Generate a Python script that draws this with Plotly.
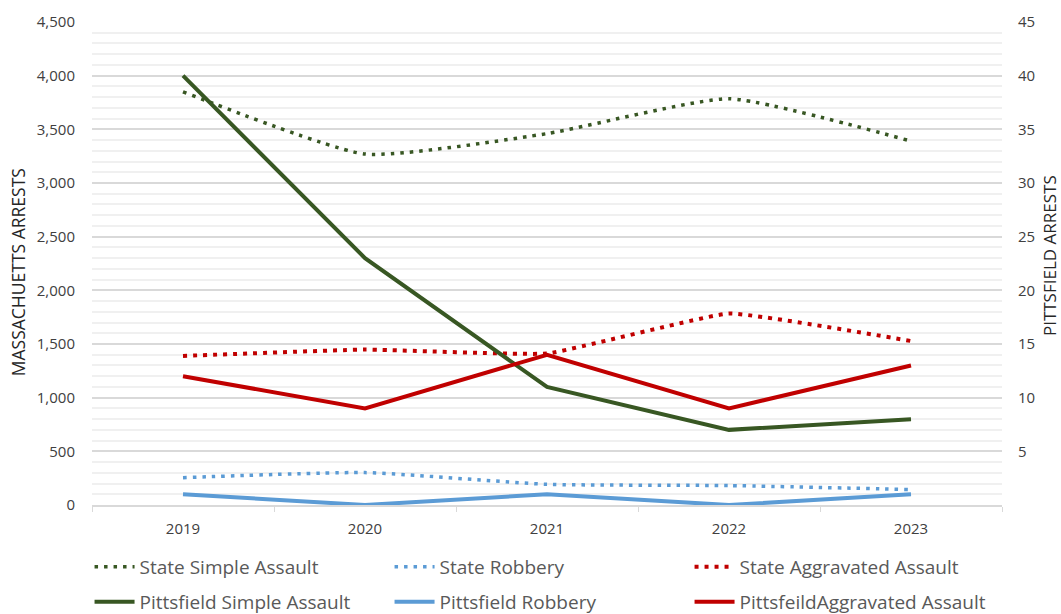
import plotly.graph_objects as go

years = ["2019", "2020", "2021", "2022", "2023"]

state_simple_assault = [3850, 3270, 3460, 3785, 3390]
state_robbery = [255, 302, 193, 181, 144]
state_aggravated_assault = [1389, 1448, 1411, 1784, 1528]

pittsfield_simple_assault = [40, 23, 11, 7, 8]
pittsfield_robbery = [1, 0, 1, 0, 1]
pittsfield_aggravated_assault = [12, 9, 14, 9, 13]

left_ticks = [0, 500, 1000, 1500, 2000, 2500, 3000, 3500, 4000, 4500]
right_ticks = [5, 10, 15, 20, 25, 30, 35, 40, 45]

GREEN = "#385723"
BLUE = "#5B9BD5"
RED = "#C00000"
TXT = "#404040"
LEG = "#595959"
FONT = "Open Sans"

fig = go.Figure()

fig.add_trace(go.Scatter(x=years, y=state_simple_assault, name="State Simple Assault",
                         mode="lines", legend="legend",
                         line=dict(color=GREEN, width=3.5, dash="3.5px,6px",
                                   shape="spline", smoothing=0.5)))
fig.add_trace(go.Scatter(x=years, y=state_robbery, name="State Robbery",
                         mode="lines", legend="legend",
                         line=dict(color=BLUE, width=3.5, dash="3.5px,6px",
                                   shape="spline", smoothing=0.5)))
fig.add_trace(go.Scatter(x=years, y=state_aggravated_assault, name="State Aggravated Assault",
                         mode="lines", legend="legend",
                         line=dict(color=RED, width=4, dash="4px,6px",
                                   shape="spline", smoothing=0.3)))
fig.add_trace(go.Scatter(x=years, y=pittsfield_simple_assault, name="Pittsfield Simple Assault",
                         mode="lines", yaxis="y2", legend="legend2",
                         line=dict(color=GREEN, width=4)))
fig.add_trace(go.Scatter(x=years, y=pittsfield_robbery, name="Pittsfield Robbery",
                         mode="lines", yaxis="y2", legend="legend2",
                         line=dict(color=BLUE, width=4)))
fig.add_trace(go.Scatter(x=years, y=pittsfield_aggravated_assault, name="PittsfeildAggravated Assault",
                         mode="lines", yaxis="y2", legend="legend2",
                         line=dict(color=RED, width=4)))

legend_common = dict(orientation="h", xref="container", yref="container",
                     x=0.0844, xanchor="left", yanchor="top",
                     entrywidth=245, entrywidthmode="pixels",
                     font=dict(size=19, color=LEG, family=FONT), itemwidth=40,
                     bgcolor="rgba(0,0,0,0)")

fig.update_layout(
    width=1061, height=614,
    margin=dict(l=92, r=59, t=22, b=109, autoexpand=False),
    paper_bgcolor="white", plot_bgcolor="white",
    font=dict(family=FONT, color=TXT, size=14),
    xaxis=dict(type="category", range=[-0.5, 4.5], tickson="boundaries",
               ticks="outside", ticklen=5, tickcolor="#D9D9D9",
               showline=True, linecolor="#D9D9D9", linewidth=1.5,
               showgrid=False, automargin=False, ticklabelstandoff=9,
               tickfont=dict(size=15, color=TXT)),
    yaxis=dict(range=[0, 4500], tickvals=left_ticks, tickformat=",",
               showgrid=True, gridcolor="#D9D9D9", gridwidth=1.5,
               minor=dict(dtick=100, showgrid=True, gridcolor="#F0F0F0", gridwidth=1.5),
               zeroline=False, ticklabelstandoff=16, automargin=False,
               tickfont=dict(size=15, color=TXT)),
    yaxis2=dict(range=[0, 45], tickvals=right_ticks, overlaying="y", side="right",
                showgrid=False, zeroline=False, ticklabelstandoff=15, automargin=False,
                tickfont=dict(size=15, color=TXT)),
    showlegend=True,
    legend=dict(y=0.1075, **legend_common),
    legend2=dict(y=0.0505, **legend_common),
    annotations=[
        dict(text="MASSACHUETTS ARRESTS", textangle=-90, xref="paper", yref="paper",
             x=-0.0813, y=0.482, showarrow=False, xanchor="center", yanchor="middle",
             font=dict(size=17.5, color="#262626", family=FONT)),
        dict(text="PITTSFIELD ARRESTS", textangle=-90, xref="paper", yref="paper",
             x=1.0520, y=0.516, showarrow=False, xanchor="center", yanchor="middle",
             font=dict(size=17, color="#262626", family=FONT)),
    ],
)

fig.write_html("out.html",
               config={"displayModeBar": False},
               post_script="document.body.style.margin='0';document.body.style.padding='0';")
